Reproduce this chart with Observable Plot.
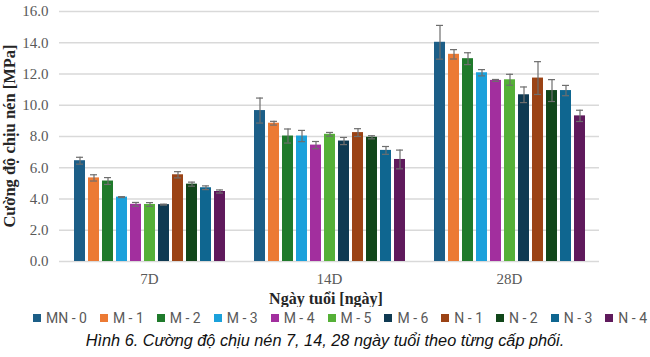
<!DOCTYPE html>
<html>
<head>
<meta charset="utf-8">
<script src="https://cdn.jsdelivr.net/npm/d3@7"></script>
<script src="https://cdn.jsdelivr.net/npm/@observablehq/plot@0.6"></script>
<style>
  html, body { margin: 0; padding: 0; background: #fff; }
  #wrap { width: 650px; }
  .legend { display: flex; flex-wrap: nowrap; justify-content: flex-start; padding-left: 33px; height: 22px; align-items: center;
            font-family: Roboto, "Liberation Sans", sans-serif; font-size: 14px; color: #595959; white-space: nowrap; }
  .legend .item { display: flex; align-items: center; flex-shrink: 0; white-space: nowrap; margin-right: 13px; }
  .legend .sw { width: 8px; height: 8px; margin-right: 5px; flex-shrink: 0; }
  .caption { text-align: center; font-family: "Liberation Sans", Arial, sans-serif; font-style: italic;
             font-size: 16.3px; color: #111; margin-top: 2px; }
</style>
</head>
<body>
<div id="wrap"></div>
<script>
const ages = ["7D", "14D", "28D"];
const series = ["MN - 0", "M - 1", "M - 2", "M - 3", "M - 4", "M - 5", "M - 6", "N - 1", "N - 2", "N - 3", "N - 4"];
const colors = ["#1c5e87", "#ec7a34", "#1f7a2b", "#1ba1db", "#a22f9e", "#55b037", "#0f3a52", "#9b4315", "#11461a", "#0f6690", "#5f1a5c"];
const values7  = [6.45, 5.35, 5.15, 4.12, 3.66, 3.65, 3.64, 5.55, 4.95, 4.72, 4.48];
const errors7  = [0.22, 0.2, 0.22, 0.03, 0.12, 0.12, 0.03, 0.2, 0.13, 0.12, 0.1];
const values14 = [9.66, 8.85, 8.03, 8.03, 7.45, 8.14, 7.71, 8.25, 7.95, 7.11, 6.53];
const errors14 = [0.8, 0.12, 0.45, 0.36, 0.23, 0.12, 0.23, 0.25, 0.1, 0.25, 0.6];
const values28 = [14.03, 13.26, 12.98, 12.08, 11.59, 11.63, 10.67, 11.74, 10.94, 10.94, 9.32];
const errors28 = [1.08, 0.3, 0.38, 0.2, 0.06, 0.35, 0.5, 1.05, 0.7, 0.33, 0.36];
const yTicks = [0, 2, 4, 6, 8, 10, 12, 14, 16];

const valueSets = [values7, values14, values28];
const errorSets = [errors7, errors14, errors28];
const data = [];
ages.forEach((age, i) => {
  series.forEach((s, j) => {
    data.push({age, series: s, value: valueSets[i][j], err: errorSets[i][j]});
  });
});

const errColor = "#6e6e6e";
const chart = Plot.plot({
  width: 650,
  height: 307,
  marginLeft: 58,
  marginRight: 50,
  marginTop: 11,
  marginBottom: 46,
  style: {fontFamily: "'Liberation Serif', 'Times New Roman', serif", fontSize: "15px", color: "#595959", background: "#fff"},
  fx: {domain: ages, padding: 0, label: null},
  x: {domain: series, paddingInner: 0.22, paddingOuter: 0.8, axis: null},
  y: {domain: [0, 16], label: null},
  color: {domain: series, range: colors},
  marks: [
    Plot.gridY(yTicks, {stroke: "#d9d9d9", strokeOpacity: 1, strokeWidth: 1.5}),
    Plot.barY(data, {fx: "age", x: "series", y: "value", fill: "series"}),
    Plot.ruleX(data, {fx: "age", x: "series", y1: d => d.value - d.err, y2: d => d.value + d.err, stroke: errColor, strokeWidth: 1.2}),
    Plot.tickY(data, {fx: "age", x: "series", y: d => d.value + d.err, stroke: errColor, strokeWidth: 1.2, insetLeft: 2, insetRight: 2}),
    Plot.tickY(data, {fx: "age", x: "series", y: d => d.value - d.err, stroke: errColor, strokeWidth: 1.2, insetLeft: 2, insetRight: 2}),
    Plot.axisY(yTicks, {tickSize: 0, tickPadding: 11, tickFormat: d => d.toFixed(1), label: null, fontSize: 15}),
    Plot.axisFx({anchor: "bottom", tickSize: 0, tickPadding: 12, label: null, fontSize: 15})
  ]
});

const svg = d3.select(chart);
svg.append("text")
  .attr("transform", "translate(15,136) rotate(-90)")
  .attr("text-anchor", "middle")
  .attr("font-family", "'Liberation Serif', serif")
  .attr("font-weight", "bold")
  .attr("font-size", 16.5)
  .attr("fill", "#262626")
  .text("Cường độ chịu nén [MPa]");
svg.append("text")
  .attr("x", 326)
  .attr("y", 304)
  .attr("text-anchor", "middle")
  .attr("font-family", "'Liberation Serif', serif")
  .attr("font-weight", "bold")
  .attr("font-size", 16)
  .attr("fill", "#262626")
  .text("Ngày tuổi [ngày]");

const wrap = document.getElementById("wrap");
wrap.appendChild(chart);

const legend = document.createElement("div");
legend.className = "legend";
series.forEach((s, j) => {
  const item = document.createElement("div");
  item.className = "item";
  const sw = document.createElement("span");
  sw.className = "sw";
  sw.style.background = colors[j];
  const t = document.createElement("span");
  t.textContent = s;
  item.appendChild(sw);
  item.appendChild(t);
  legend.appendChild(item);
});
wrap.appendChild(legend);

const cap = document.createElement("div");
cap.className = "caption";
cap.textContent = "Hình 6. Cường độ chịu nén 7, 14, 28 ngày tuổi theo từng cấp phối.";
wrap.appendChild(cap);
</script>
</body>
</html>
